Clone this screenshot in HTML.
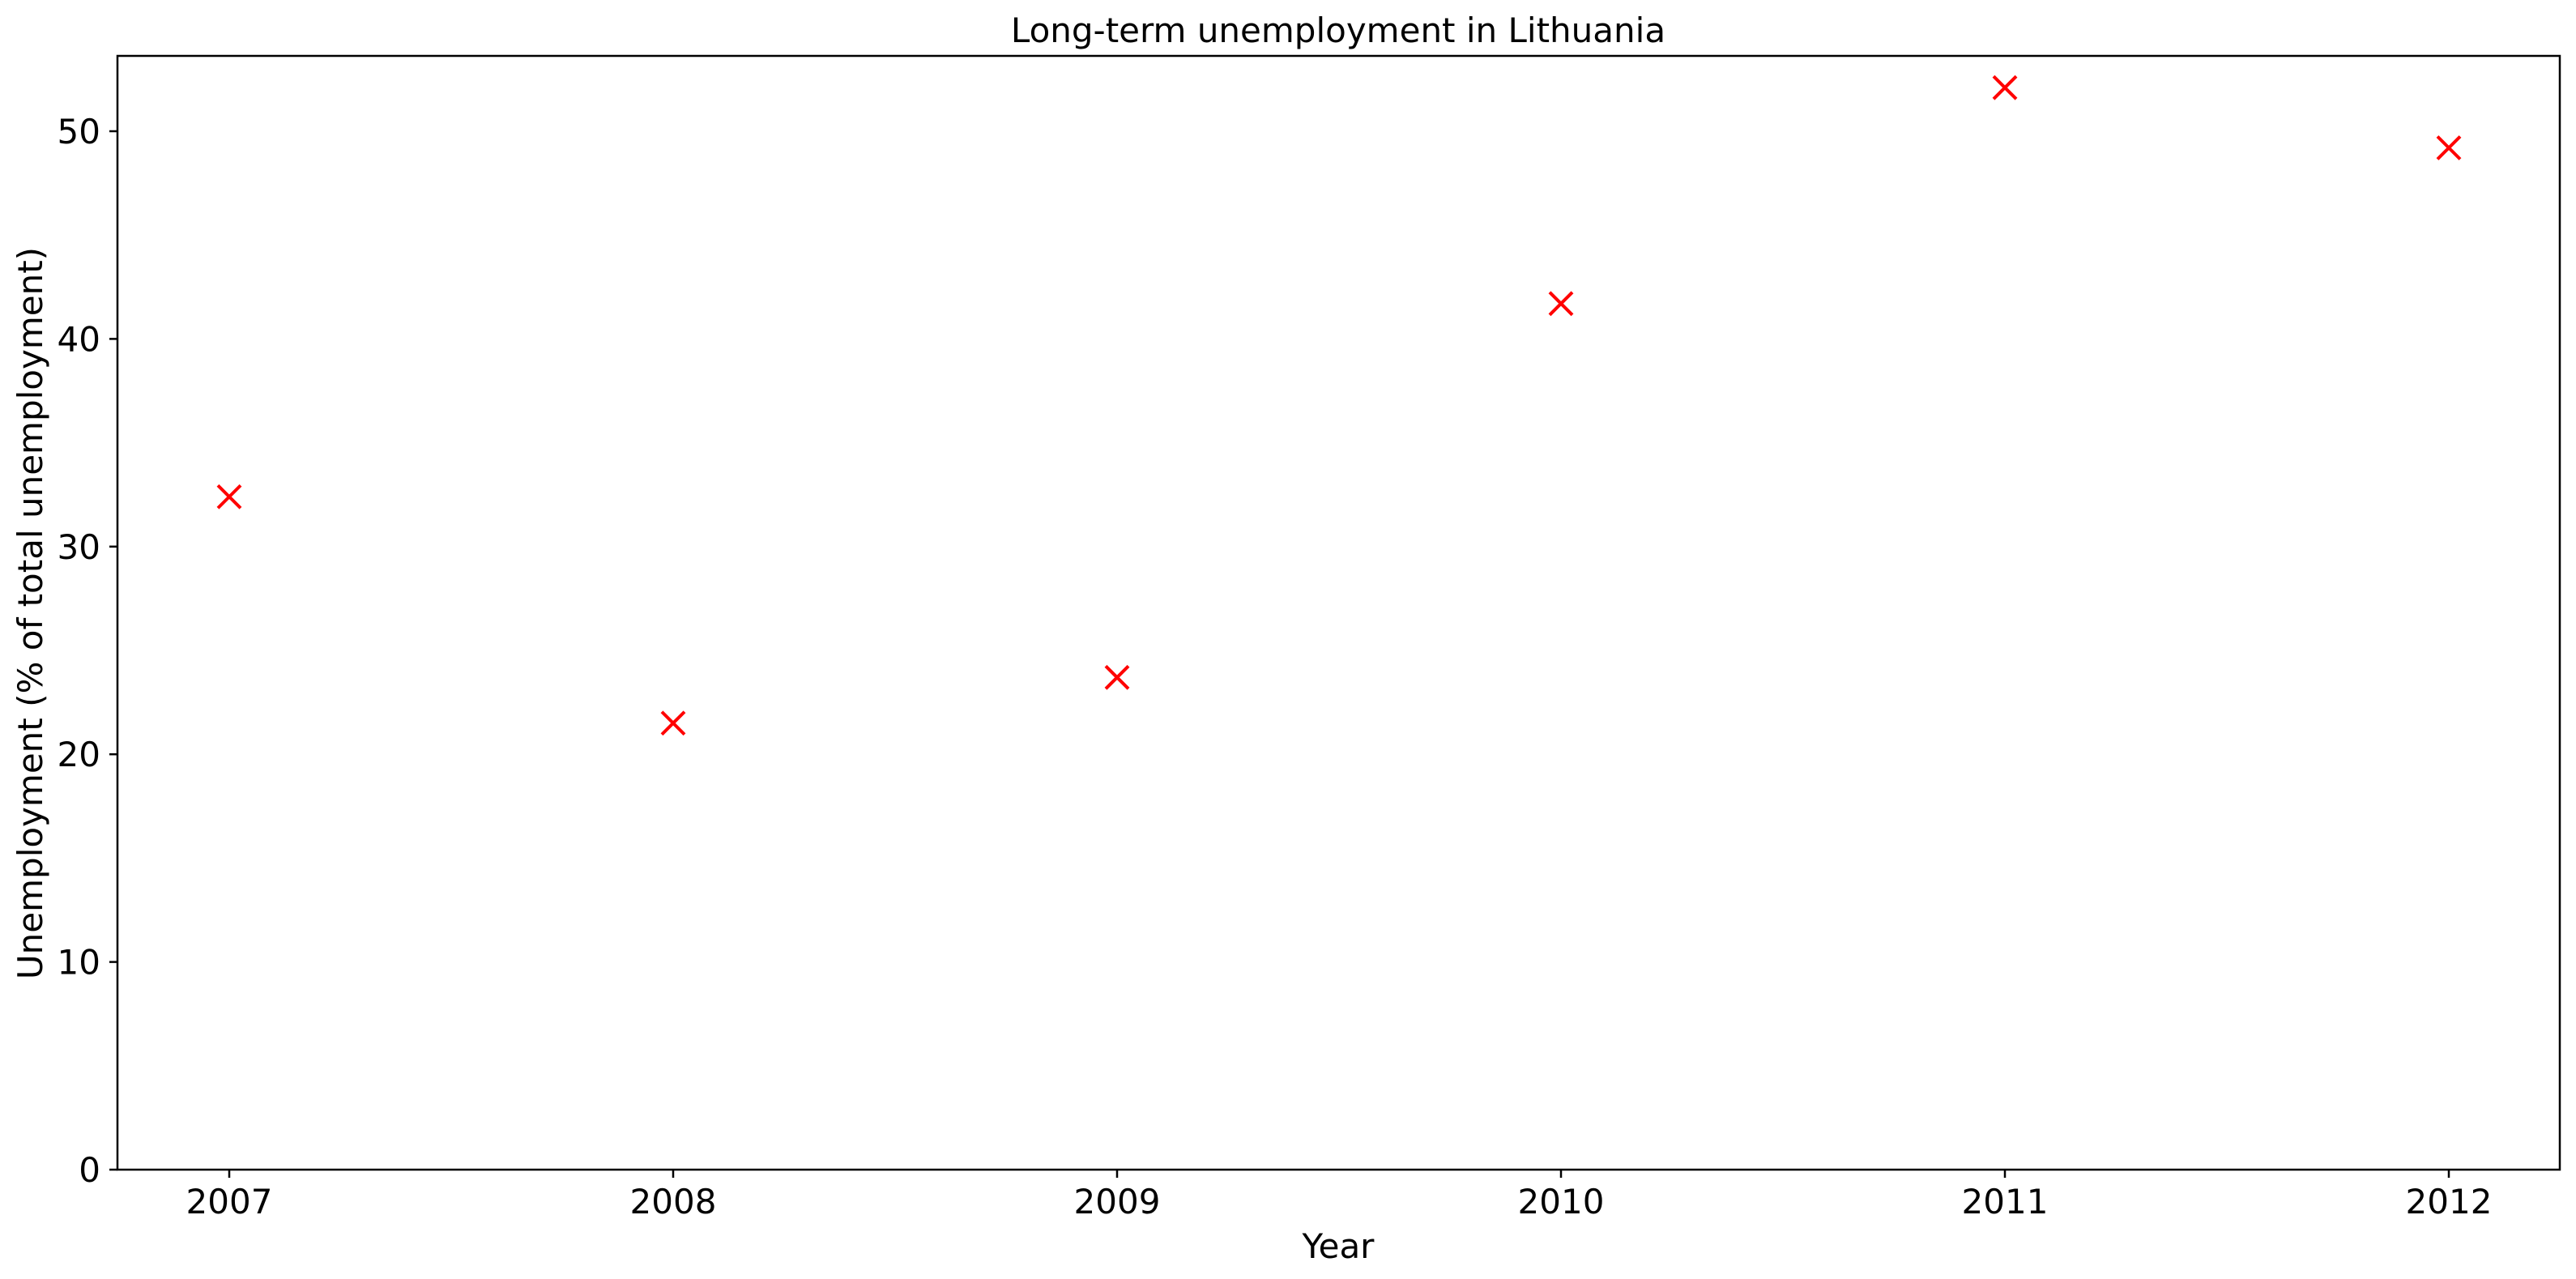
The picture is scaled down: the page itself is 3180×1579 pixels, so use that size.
<!DOCTYPE html>
<html><head><meta charset="utf-8"><style>html,body{margin:0;padding:0;background:#fff}svg{display:block}text{font-family:"DejaVu Sans","Liberation Sans",sans-serif;fill:#000}</style></head>
<body>
<svg id="chart" width="3180" height="1579" viewBox="0 0 3180 1579" xmlns="http://www.w3.org/2000/svg">
<rect x="0" y="0" width="3180" height="1579" fill="#fff"/>
<text x="1652" y="52" font-size="42" text-anchor="middle">Long-term unemployment in Lithuania</text>
<g id="ticks"></g>
<g id="marks"></g>
<rect x="145" y="69" width="3015" height="1375" fill="none" stroke="#000" stroke-width="2.5"/>
<text x="1652" y="1553" font-size="42" text-anchor="middle">Year</text>
<text transform="translate(52,757) rotate(-90)" font-size="42" text-anchor="middle">Unemployment (% of total unemployment)</text>
</svg>
<script>
const years = [2007, 2008, 2009, 2010, 2011, 2012];
const values = [32.4, 21.5, 23.7, 41.7, 52.1, 49.2];
const yTicks = [0, 10, 20, 30, 40, 50];
const NS = "http://www.w3.org/2000/svg";
const X0 = 283, PX_PER_YEAR = 548, Y0 = 1444, PX_PER_UNIT = 25.64;
function xs(v){return X0 + (v - years[0]) * PX_PER_YEAR;}
function ys(v){return Y0 - v * PX_PER_UNIT;}
const tg = document.getElementById('ticks');
const mg = document.getElementById('marks');
function mk(tag, attrs, parent){const e=document.createElementNS(NS,tag);for(const k in attrs)e.setAttribute(k,attrs[k]);parent.appendChild(e);return e;}
years.forEach(y=>{
  const l = mk('line',{x1:xs(y),x2:xs(y),y1:Y0,y2:Y0+10,stroke:'#000','stroke-width':2.5},tg);
  
  
  const t = mk('text',{x:xs(y),y:Y0+54,'font-size':42,'text-anchor':'middle'},tg);
  t.textContent = y;
  
  
});
yTicks.forEach(v=>{
  const l = mk('line',{x1:135,x2:145,y1:ys(v),y2:ys(v),stroke:'#000','stroke-width':2.5},tg);
  
  
  const t = mk('text',{x:124,y:ys(v)+15,'font-size':42,'text-anchor':'end'},tg);
  t.textContent = v;
  
  
});
years.forEach((y,i)=>{
  const cx = xs(y), cy = ys(values[i]), r = 14;
  const p = mk('path',{d:`M${cx-r},${cy-r}L${cx+r},${cy+r}M${cx-r},${cy+r}L${cx+r},${cy-r}`,stroke:'#ff0000','stroke-width':4,fill:'none'},mg);
  
  
});
</script>
</body></html>
